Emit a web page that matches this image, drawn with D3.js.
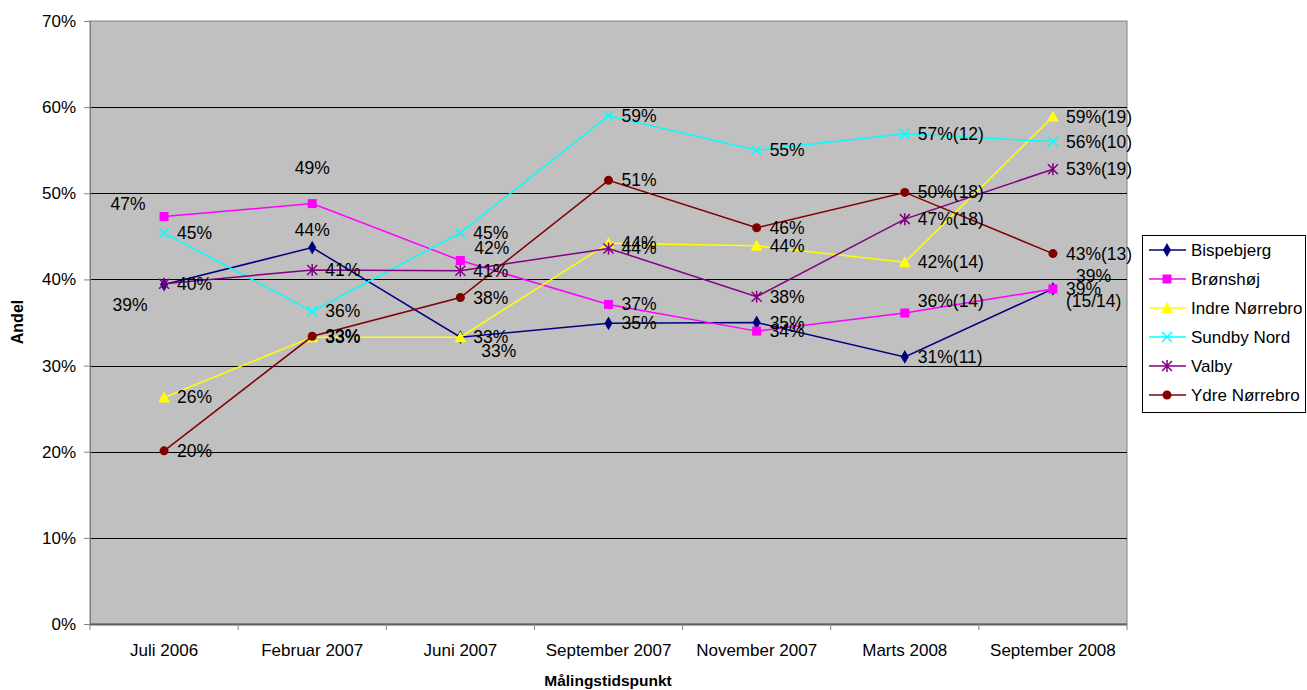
<!DOCTYPE html>
<html>
<head>
<meta charset="utf-8">
<script src="https://cdn.jsdelivr.net/npm/d3@7"></script>
<style>
  body { margin: 0; background: #fff; }
  svg text { font-family: "Liberation Sans", Arial, sans-serif; fill: #000; }
</style>
</head>
<body>
<div class="chart"></div>
<script>
// categories and series values (fractions)
var categories = ["Juli 2006", "Februar 2007", "Juni 2007", "September 2007", "November 2007", "Marts 2008", "September 2008"];
var seriesNames = ["Bispebjerg", "Brønshøj", "Indre Nørrebro", "Sundby Nord", "Valby", "Ydre Nørrebro"];

var bispebjerg = [0.394, 0.437, 0.333, 0.349, 0.350, 0.310, 0.389];
var bronshoj   = [0.473, 0.488, 0.422, 0.371, 0.340, 0.361, 0.389];
var indre      = [0.263, 0.333, 0.333, 0.442, 0.439, 0.420, 0.589];
var sundby     = [0.454, 0.363, 0.454, 0.590, 0.550, 0.569, 0.560];
var valby      = [0.395, 0.411, 0.410, 0.436, 0.380, 0.470, 0.528];
var ydre       = [0.201, 0.334, 0.379, 0.515, 0.460, 0.501, 0.430];

// data labels as printed
var bispebjergLabels = ["39%", "44%", "33%", "35%", "35%", "31%(11)", "39%"];
var bronshojLabels   = ["47%", "49%", "42%", "37%", "34%", "36%(14)", "39%\n(15/14)"];
var indreLabels      = ["26%", "33%", "33%", "44%", "44%", "42%(14)", "59%(19)"];
var sundbyLabels     = ["45%", "36%", "45%", "59%", "55%", "57%(12)", "56%(10)"];
var valbyLabels      = ["40%", "41%", "41%", "44%", "38%", "47%(18)", "53%(19)"];
var ydreLabels       = ["20%", "33%", "38%", "51%", "46%", "50%(18)", "43%(13)"];

var yTicks = [0, 0.1, 0.2, 0.3, 0.4, 0.5, 0.6, 0.7];

var colors = ["#000080", "#ff00ff", "#ffff00", "#00ffff", "#800080", "#800000"];
var markers = ["diamond", "square", "triangle", "cross", "star", "circle"];

// label placement (dx, dy from point, anchor); default right of point
var labelShift = {
  "0-0": [-34, 20, "middle"], "0-1": [0, -18, "middle"], "0-2": [21, 14, "start"], "0-6": [23, -13, "start"],
  "1-0": [-36, -13, "middle"], "1-1": [0, -36, "middle"], "1-2": [14, -12, "start"], "1-5": [13, -12, "start"]
};

var svgWidth = 1307, svgHeight = 690;
var plot = { left: 90, right: 1127, top: 21, bottom: 624 };

var svg = d3.select(".chart").append("svg")
  .attr("width", svgWidth).attr("height", svgHeight);

var x = d3.scaleBand().domain(categories).range([plot.left, plot.right]).padding(0);
var y = d3.scaleLinear().domain([0, 0.7]).range([plot.bottom, plot.top]);
var cx = function(c) { return x(c) + x.bandwidth() / 2; };

// plot background
svg.append("rect")
  .attr("x", plot.left).attr("y", plot.top)
  .attr("width", plot.right - plot.left).attr("height", plot.bottom - plot.top)
  .attr("fill", "#c0c0c0").attr("stroke", "#808080").attr("stroke-width", 1);

// gridlines
svg.append("g").selectAll("line")
  .data(yTicks.filter(function(t) { return t > 0 && t < 0.7; }))
  .enter().append("line")
  .attr("x1", plot.left).attr("x2", plot.right)
  .attr("y1", function(d) { return Math.round(y(d)) + 0.5; })
  .attr("y2", function(d) { return Math.round(y(d)) + 0.5; })
  .attr("stroke", "#000").attr("stroke-width", 1);

// y axis
var yAxis = d3.axisLeft(y).tickValues(yTicks).tickFormat(d3.format(".0%")).tickSize(6).tickPadding(8);
var yG = svg.append("g").attr("transform", "translate(" + plot.left + ",0)").call(yAxis);
yG.select(".domain").attr("stroke", "#808080");
yG.selectAll(".tick line").attr("stroke", "#808080");
yG.selectAll("text").style("font-size", "17px").style("font-family", "Liberation Sans, Arial, sans-serif");

// x axis: ticks at band edges
var xAxisG = svg.append("g");
xAxisG.append("line")
  .attr("x1", plot.left).attr("x2", plot.right)
  .attr("y1", plot.bottom + 0.5).attr("y2", plot.bottom + 0.5)
  .attr("stroke", "#606060").attr("stroke-width", 2);
var edges = categories.map(function(c) { return x(c); }).concat([plot.right]);
xAxisG.selectAll(".xt").data(edges).enter().append("line")
  .attr("x1", function(d) { return d; }).attr("x2", function(d) { return d; })
  .attr("y1", plot.bottom).attr("y2", plot.bottom + 6)
  .attr("stroke", "#808080");
xAxisG.selectAll(".xl").data(categories).enter().append("text")
  .attr("x", cx).attr("y", 656)
  .attr("text-anchor", "middle").style("font-size", "17px")
  .text(function(d) { return d; });

// axis titles
svg.append("text").attr("x", 608).attr("y", 686)
  .attr("text-anchor", "middle").style("font-size", "15.5px").style("font-weight", "bold")
  .text("Målingstidspunkt");
svg.append("text").attr("transform", "translate(23,322) rotate(-90)")
  .attr("text-anchor", "middle").style("font-size", "16px").style("font-weight", "bold")
  .text("Andel");

function drawMarker(g, type, color, px, py) {
  if (type === "diamond") {
    g.append("path").attr("d", d3.symbol().type(d3.symbolDiamond).size(55)())
      .attr("transform", "translate(" + px + "," + py + ")").attr("fill", color);
  } else if (type === "square") {
    g.append("rect").attr("x", px - 4.5).attr("y", py - 4.5).attr("width", 9).attr("height", 9).attr("fill", color);
  } else if (type === "triangle") {
    g.append("path").attr("d", "M" + px + "," + (py - 6) + "L" + (px + 6) + "," + (py + 5) + "L" + (px - 6) + "," + (py + 5) + "Z")
      .attr("fill", color);
  } else if (type === "cross") {
    g.append("path").attr("d", "M" + (px - 5) + "," + (py - 5) + "L" + (px + 5) + "," + (py + 5) + "M" + (px + 5) + "," + (py - 5) + "L" + (px - 5) + "," + (py + 5))
      .attr("stroke", color).attr("stroke-width", 1.5);
  } else if (type === "star") {
    g.append("path").attr("d", "M" + (px - 5) + "," + (py - 5) + "L" + (px + 5) + "," + (py + 5) + "M" + (px + 5) + "," + (py - 5) + "L" + (px - 5) + "," + (py + 5) + "M" + px + "," + (py - 6) + "L" + px + "," + (py + 6))
      .attr("stroke", color).attr("stroke-width", 1.5);
  } else {
    g.append("circle").attr("cx", px).attr("cy", py).attr("r", 4.5).attr("fill", color);
  }
}

var allValues = [bispebjerg, bronshoj, indre, sundby, valby, ydre];
var allLabels = [bispebjergLabels, bronshojLabels, indreLabels, sundbyLabels, valbyLabels, ydreLabels];

var line = d3.line()
  .x(function(d, i) { return cx(categories[i]); })
  .y(function(d) { return y(d); });

allValues.forEach(function(vals, s) {
  var g = svg.append("g");
  g.append("path").datum(vals).attr("d", line)
    .attr("fill", "none").attr("stroke", colors[s]).attr("stroke-width", 1.5);
  vals.forEach(function(v, i) {
    drawMarker(g, markers[s], colors[s], cx(categories[i]), y(v));
  });
});

// data labels on top
allValues.forEach(function(vals, s) {
  vals.forEach(function(v, i) {
    var sh = labelShift[s + "-" + i] || [13, 0, "start"];
    var px = cx(categories[i]) + sh[0];
    var py = y(v) + sh[1];
    var lines = allLabels[s][i].split("\n");
    var t = svg.append("text").attr("x", px).attr("y", py + 6)
      .attr("text-anchor", sh[2]).style("font-size", "17.5px");
    lines.forEach(function(l, k) {
      t.append("tspan").attr("x", px).attr("dy", k === 0 ? 0 : 12).text(l);
    });
  });
});

// legend
var lg = svg.append("g");
lg.append("rect").attr("x", 1142.5).attr("y", 235.5).attr("width", 163).attr("height", 177)
  .attr("fill", "#fff").attr("stroke", "#000").attr("stroke-width", 1);
seriesNames.forEach(function(n, s) {
  var ly = 250 + s * 29;
  lg.append("line").attr("x1", 1149).attr("x2", 1186).attr("y1", ly).attr("y2", ly)
    .attr("stroke", colors[s]).attr("stroke-width", 1.5);
  drawMarker(lg, markers[s], colors[s], 1167, ly);
  lg.append("text").attr("x", 1191).attr("y", ly + 6).style("font-size", "17px").text(n);
});
</script>
</body>
</html>
